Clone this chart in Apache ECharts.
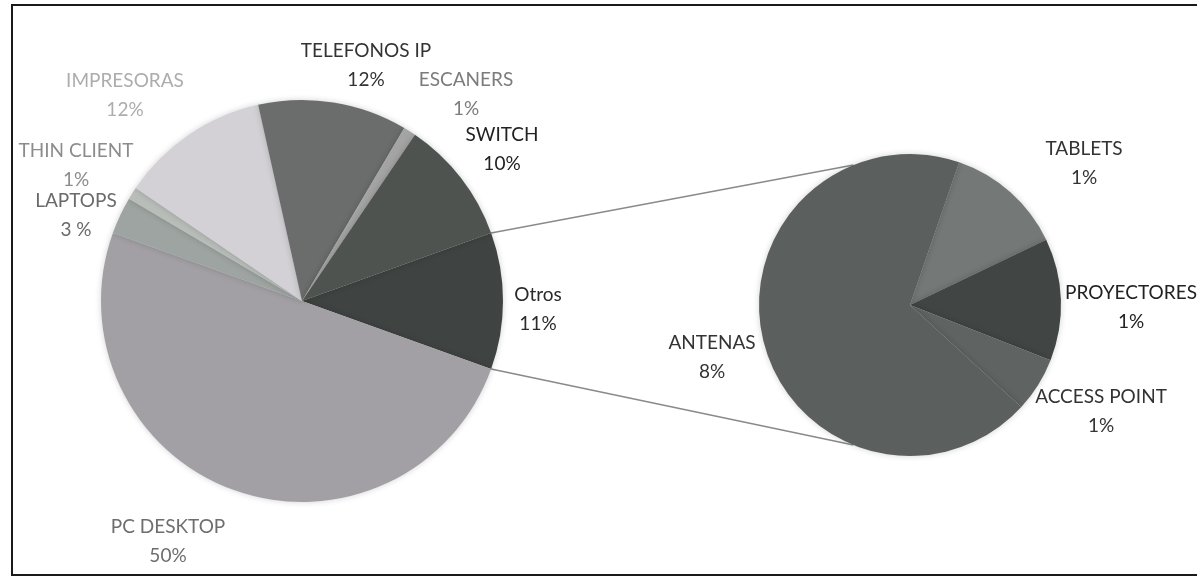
<!DOCTYPE html>
<html>
<head>
<meta charset="utf-8">
<script src="https://cdn.jsdelivr.net/npm/echarts@6/dist/echarts.min.js"></script>
<style>
html,body{margin:0;padding:0;background:#fff;}
#c{width:1197px;height:578px;}
</style>
</head>
<body>
<div id="c"></div>
<script>
// ---- data ----
const mainNames  = ['Otros', 'PC DESKTOP', 'LAPTOPS', 'THIN CLIENT', 'IMPRESORAS', 'TELEFONOS IP', 'ESCANERS', 'SWITCH'];
const mainValues = [11, 50, 3, 1, 12, 12, 1, 10];
const mainPct    = ['11%', '50%', '3 %', '1%', '12%', '12%', '1%', '10%'];

const subNames  = ['TABLETS', 'PROYECTORES', 'ACCESS POINT', 'ANTENAS'];
const subValues = [1.4, 1.45, 0.65, 7.6];
const subPct    = ['1%', '1%', '1%', '8%'];

// ---- styling ----
const mainColors = ['#3f4341', '#a3a0a5', '#9ea4a1', '#b8bdba', '#d3d1d5', '#6b6d6d', '#a4a4a4', '#4e5350'];
const mainText   = ['#2a2a2a', '#6e6e6e', '#6a6a6a', '#8c8c8c', '#adadad', '#333', '#7c7c7c', '#222'];
const subColors  = ['#747876', '#414543', '#5f6361', '#5b5f5d'];
const subText    = ['#333', '#222', '#333', '#333'];

const mainLabelPos = [[538, 309], [168, 541], [76, 215], [76, 165], [125, 95], [366, 65], [466, 94], [502, 149]];
const subLabelPos  = [[1084, 163], [1131, 307], [1101, 411], [712, 357]];

const mainC = [302, 301], mainR = 201;
const subC = [910, 305], subR = 151;

const mainTotal = mainValues.reduce((a, b) => a + b, 0);
const mainStart = mainValues[0] / mainTotal * 180;   // "Otros" centred on the right
const subStart = 71;

const FONT = 'Lato, "Open Sans", sans-serif';

function mkData(names, values, colors, texts, pcts) {
  return names.map((n, i) => ({
    name: n, value: values[i],
    itemStyle: { color: colors[i] },
    label: { color: texts[i], formatter: n + '\n' + pcts[i] }
  }));
}

const chart = echarts.init(document.getElementById('c'));

// connector lines from the "Otros" slice to the secondary pie
const a = mainStart * Math.PI / 180;
const p1 = [mainC[0] + mainR * Math.cos(a), mainC[1] - mainR * Math.sin(a)];
const p2 = [mainC[0] + mainR * Math.cos(a), mainC[1] + mainR * Math.sin(a)];
const b1 = 112 * Math.PI / 180, b2 = 248 * Math.PI / 180;
const q1 = [subC[0] + subR * Math.cos(b1), subC[1] - subR * Math.sin(b1)];
const q2 = [subC[0] + subR * Math.cos(b2), subC[1] - subR * Math.sin(b2)];

const option = {
  backgroundColor: '#fff',
  animation: false,
  graphic: [
    { type: 'rect', shape: { x: 12, y: 5, width: 1200, height: 570 },
      style: { fill: 'none', stroke: '#1a1a1a', lineWidth: 2 }, z: 0 },
    { type: 'line', shape: { x1: p1[0], y1: p1[1], x2: q1[0], y2: q1[1] },
      style: { stroke: '#8a8a8a', lineWidth: 1.5 }, z: 1 },
    { type: 'line', shape: { x1: p2[0], y1: p2[1], x2: q2[0], y2: q2[1] },
      style: { stroke: '#8a8a8a', lineWidth: 1.5 }, z: 1 }
  ],
  series: [
    {
      type: 'pie', center: mainC, radius: mainR, startAngle: mainStart,
      clockwise: true, avoidLabelOverlap: false,
      itemStyle: { borderWidth: 0, shadowBlur: 6, shadowColor: 'rgba(0,0,0,0.18)' },
      label: { show: true, position: 'outside', fontFamily: FONT, fontSize: 19, lineHeight: 29, align: 'center' },
      labelLine: { show: false },
      labelLayout: p => ({ x: mainLabelPos[p.dataIndex][0], y: mainLabelPos[p.dataIndex][1], align: 'center', verticalAlign: 'middle' }),
      emphasis: { disabled: true },
      data: mkData(mainNames, mainValues, mainColors, mainText, mainPct)
    },
    {
      type: 'pie', center: subC, radius: subR, startAngle: subStart,
      clockwise: true, avoidLabelOverlap: false,
      itemStyle: { borderWidth: 0, shadowBlur: 6, shadowColor: 'rgba(0,0,0,0.18)' },
      label: { show: true, position: 'outside', fontFamily: FONT, fontSize: 19, lineHeight: 29, align: 'center' },
      labelLine: { show: false },
      labelLayout: p => ({ x: subLabelPos[p.dataIndex][0], y: subLabelPos[p.dataIndex][1], align: 'center', verticalAlign: 'middle' }),
      emphasis: { disabled: true },
      data: mkData(subNames, subValues, subColors, subText, subPct)
    }
  ]
};
chart.setOption(option);
</script>
</body>
</html>
